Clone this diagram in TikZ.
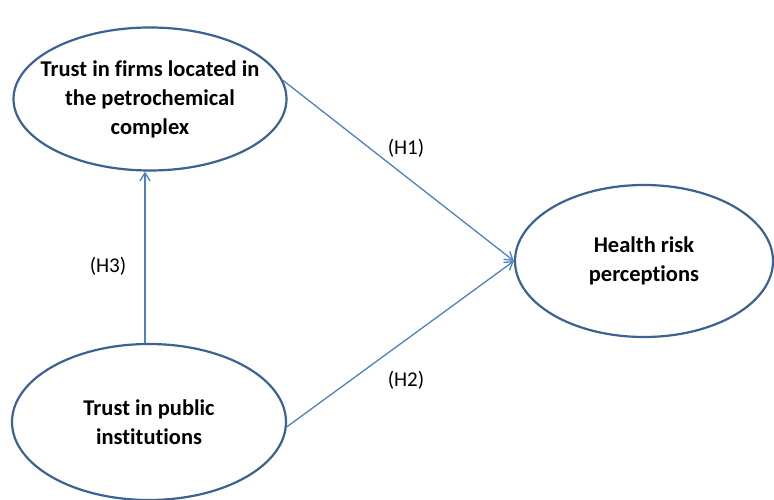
\documentclass[tikz,border=0pt]{standalone}
\usepackage{fontspec}
\setmainfont{Carlito}[Ligatures=NoCommon]
\usetikzlibrary{shapes.geometric,arrows.meta}
\definecolor{edgeblue}{RGB}{60,98,145}
\definecolor{arrowblue}{RGB}{79,129,189}
\tikzset{
  construct/.style={ellipse, draw=edgeblue, line width=2.2pt, fill=white, inner xsep=-30pt, inner ysep=-5pt,
    font=\bfseries\fontsize{22.5}{29}\selectfont, align=center, text=black},
  path/.style={draw=arrowblue, line width=1.3pt, -{Straight Barb[length=8pt,width=10pt]}},
  hyp/.style={font=\fontsize{21}{24}\selectfont, text=black}
}
\begin{document}
\begin{tikzpicture}[x=1pt,y=-1pt]
\useasboundingbox (0,0) rectangle (774,500);
\node[construct, minimum width=273pt, minimum height=143pt] (firms) at (150,99)
  {Trust in firms located in\\the petrochemical\\complex};
\node[construct, minimum width=258pt, minimum height=152pt] (health) at (644,261)
  {Health risk\\perceptions};
\node[construct, minimum width=274pt, minimum height=156pt] (public) at (149,422)
  {Trust in public\\institutions};
\draw[path] (firms.8) -- (health.west);
\draw[path] (public.-2) -- (health.west);
\draw[path] (public.north -| 145,0) -- (firms.south -| 145,0);
\node[hyp] (h1) at (406,148) {(H1)};
\node[hyp] (h2) at (406,380) {(H2)};
\node[hyp] (h3) at (108,266) {(H3)};
\end{tikzpicture}
\end{document}
